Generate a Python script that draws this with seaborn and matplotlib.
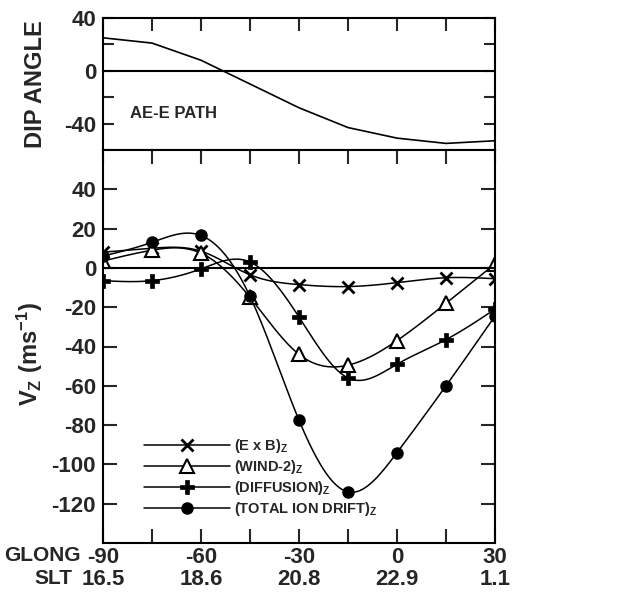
import numpy as np
import pandas as pd
import seaborn as sns
import matplotlib.pyplot as plt
from matplotlib.lines import Line2D
from matplotlib.transforms import blended_transform_factory

# geographic longitude of the sample points along the AE-E path
GLONG = [-90, -75, -60, -45, -30, -15, 0, 15, 30]
GLONG_TICKS = [-90, -60, -30, 0, 30]
SLT_LABELS = ['16.5', '18.6', '20.8', '22.9', '1.1']

DIP_ANGLE = [25, 21, 8, -10, -28, -43, -51, -55, -53]

EXB = [8, 10, 8.5, -3.5, -8.5, -9.5, -7.5, -5, -5.5]
WIND = [3.5, 9, 7.5, -15, -44, -49.5, -37, -18, 2]
DIFFUSION = [-6.5, -6.5, -0.5, 3, -25, -56, -49, -36.5, -21]
TOTAL = [6, 13, 16.5, -14.5, -77.5, -114, -94, -60, -24.5]

SERIES = [
    (r'(E x B)$_{\rm Z}$', EXB, dict(marker='x', ms=9, mew=2, mfc='black')),
    (r'(WIND-2)$_{\rm Z}$', WIND, dict(marker='^', ms=10, mew=1.5, mfc='white')),
    (r'(DIFFUSION)$_{\rm Z}$', DIFFUSION, dict(marker='P', ms=10, mew=0.5, mfc='black')),
    (r'(TOTAL ION DRIFT)$_{\rm Z}$', TOTAL, dict(marker='o', ms=8, mew=1, mfc='black')),
]

sns.set_style('ticks')
plt.rcParams['font.family'] = ['Liberation Sans', 'DejaVu Sans']
plt.rcParams['font.weight'] = 'bold'
plt.rcParams['mathtext.fontset'] = 'custom'
plt.rcParams['mathtext.rm'] = 'Liberation Sans:bold'
plt.rcParams['mathtext.bf'] = 'Liberation Sans:bold'
plt.rcParams['mathtext.it'] = 'Liberation Sans:bold'
plt.rcParams['axes.unicode_minus'] = False

TICK_FS = 16
LW_AX = 1.5


def smooth(x, y, num=300):
    # natural cubic spline through the points, only used to draw the curve
    x = np.asarray(x, float)
    y = np.asarray(y, float)
    n = len(x)
    h = np.diff(x)
    A = np.zeros((n, n))
    b = np.zeros(n)
    A[0, 0] = A[-1, -1] = 1
    for i in range(1, n - 1):
        A[i, i - 1] = h[i - 1]
        A[i, i] = 2 * (h[i - 1] + h[i])
        A[i, i + 1] = h[i]
        b[i] = 6 * ((y[i + 1] - y[i]) / h[i] - (y[i] - y[i - 1]) / h[i - 1])
    M = np.linalg.solve(A, b)
    xs = np.linspace(x[0], x[-1], num)
    idx = np.clip(np.searchsorted(x, xs) - 1, 0, n - 2)
    x0, x1 = x[idx], x[idx + 1]
    hh = x1 - x0
    t0 = x1 - xs
    t1 = xs - x0
    ys = (M[idx] * t0 ** 3 / (6 * hh) + M[idx + 1] * t1 ** 3 / (6 * hh)
          + (y[idx] / hh - M[idx] * hh / 6) * t0 + (y[idx + 1] / hh - M[idx + 1] * hh / 6) * t1)
    return xs, ys


W, H = 641, 599
fig = plt.figure(figsize=(W / 100, H / 100), dpi=100)
ax_top = fig.add_axes([103 / W, (H - 150) / H, 392 / W, 132 / H])
ax = fig.add_axes([103 / W, (H - 543) / H, 392 / W, 393 / H])

################################################################################
# dip angle panel
################################################################################

dip_df = pd.DataFrame({'glong': GLONG, 'dip': DIP_ANGLE})
sns.lineplot(data=dip_df, x='glong', y='dip', ax=ax_top, color='black', lw=1.2)
ax_top.axhline(0, color='black', lw=LW_AX)
ax_top.set_xlim(-90, 30)
ax_top.set_ylim(-60, 40)
ax_top.set_xticks(GLONG)
ax_top.set_yticks([-40, -20, 0, 20, 40])
ax_top.set_yticklabels(['-40', '', '0', '', '40'])
ax_top.tick_params(axis='x', direction='in', length=9.5, width=LW_AX, top=True, bottom=False,
                   labelbottom=False)
ax_top.tick_params(axis='y', direction='in', length=8, width=LW_AX, left=True, right=True,
                   labelsize=TICK_FS, pad=5)
ax_top.set_xlabel('')
ax_top.set_ylabel('DIP ANGLE', fontsize=17, fontweight='bold')
ax_top.yaxis.set_label_coords(-0.143, 0.5)
ax_top.text(-81.7, -32, 'AE-E PATH', fontsize=12, fontweight='bold', va='center', ha='left')

################################################################################
# vertical drift panel
################################################################################

for label, values, style in SERIES:
    xs, ys = smooth(GLONG, values)
    sns.lineplot(x=xs, y=ys, ax=ax, color='black', lw=1.1, sort=False)
    ax.plot(GLONG, values, linestyle='none', color='black', mec='black', **style)

ax.axhline(0, color='black', lw=LW_AX)
ax.set_xlim(-90, 30)
ax.set_ylim(-140, 60)
ax.set_xticks(GLONG)
ax.set_xticklabels([str(g) if g in GLONG_TICKS else '' for g in GLONG])
ax.set_yticks(np.arange(-120, 60, 20))
ax.set_yticklabels([str(v) for v in np.arange(-120, 60, 20)])
ax.tick_params(axis='x', direction='in', length=10, width=LW_AX, top=True, bottom=True,
               labelsize=TICK_FS, pad=3)
ax.tick_params(axis='y', direction='in', length=10, width=LW_AX, left=True, right=True,
               labelsize=TICK_FS, pad=5)
ax.set_xlabel('')
ax.set_ylabel(r'V$_{\rm Z}$ (ms$^{\rm{-}1}$)', fontsize=17, fontweight='bold')
ax.yaxis.set_label_coords(-0.148, 0.48)

for a in (ax_top, ax):
    for sp in a.spines.values():
        sp.set_linewidth(LW_AX)
        sp.set_color('black')
    for lab in a.get_xticklabels() + a.get_yticklabels():
        lab.set_fontweight('bold')

trans = blended_transform_factory(ax.transData, ax.transAxes)
for g, s in zip(GLONG_TICKS, SLT_LABELS):
    ax.text(g, -0.066, s, transform=trans, ha='center', va='top', fontsize=TICK_FS,
            fontweight='bold')
ax.text(-97, -0.008, 'GLONG', transform=trans, ha='right', va='top', fontsize=15,
        fontweight='bold')
ax.text(-99.5, -0.066, 'SLT', transform=trans, ha='right', va='top', fontsize=15,
        fontweight='bold')

handles = [Line2D([], [], color='black', lw=1.1, mec='black', **style) for _, _, style in SERIES]
labels = [label for label, _, _ in SERIES]
ax.legend(handles, labels, loc='upper left', bbox_to_anchor=(0.105, 0.27), frameon=False,
          fontsize=10.5, handlelength=5.9, handletextpad=0.25, labelspacing=0.2,
          borderpad=0, borderaxespad=0, numpoints=1)

fig.savefig('out.png', dpi=100)
